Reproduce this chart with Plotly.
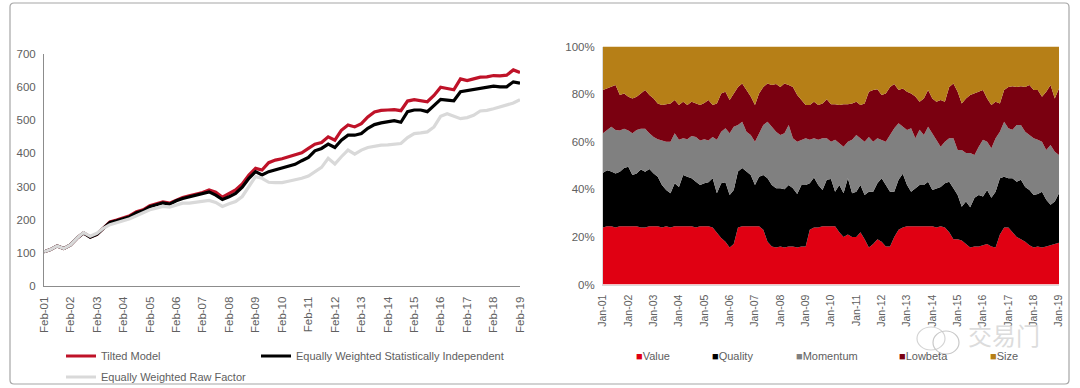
# plot.py - factor portfolio performance and weights through time
import pandas as pd
import plotly.graph_objects as go

# ── Left panel: cumulative performance, quarterly ─────────────────────────────
perf_dates = pd.date_range("2001-02-01", "2019-02-01", freq="3MS")
tilted_model = [
    103, 110, 121, 113, 124, 144, 160, 148, 156, 175, 193, 199,
    206, 212, 224, 230, 242, 249, 254, 250, 260, 267, 272, 277,
    282, 290, 283, 268, 280, 290, 308, 335, 355, 350, 372, 380,
    384, 390, 394, 402, 415, 428, 433, 450, 440, 470, 486, 480,
    490, 510, 525, 530, 531, 532, 529, 558, 562, 559, 556, 575,
    600, 596, 592, 625, 620, 625, 630, 631, 635, 634, 636, 652, 644,
]
stat_independent = [
    103, 110, 121, 113, 124, 144, 160, 147, 156, 174, 192, 197,
    204, 209, 221, 227, 239, 246, 251, 247, 257, 264, 269, 274,
    277, 284, 274, 261, 269, 279, 298, 325, 345, 335, 345, 350,
    355, 362, 367, 378, 388, 408, 415, 428, 418, 440, 455, 455,
    460, 476, 487, 492, 496, 499, 494, 526, 531, 531, 526, 546,
    563, 561, 559, 586, 589, 593, 596, 599, 603, 601, 601, 616, 612,
]
raw_factor = [
    103, 110, 121, 113, 124, 144, 161, 150, 159, 174, 185, 191,
    196, 203, 212, 222, 230, 235, 240, 238, 244, 250, 250, 252,
    255, 258, 252, 240, 248, 255, 270, 300, 330, 325, 313, 312,
    312, 316, 320, 325, 332, 345, 358, 385, 368, 390, 410, 398,
    410, 418, 422, 425, 426, 428, 430, 448, 460, 462, 465, 480,
    512, 520, 512, 505, 508, 515, 528, 530, 535, 540, 545, 552, 562,
]

# ── Right panel: top edge of each factor band in %, every two months ──────────
weight_dates = pd.date_range("2001-01-01", "2019-01-01", freq="2MS")
value_top = [
    24, 24.5, 24.5, 24, 24.5, 24.5,
    24.5, 24.5, 24.5, 24, 24, 24.5,
    24.5, 24.5, 24, 24.5, 24, 24.5,
    24.5, 24.5, 24.5, 24.5, 24, 24.5,
    24.5, 24.5, 24, 22, 19.5, 18,
    15.5, 17, 24, 24.5, 24.5, 24.5,
    24.5, 24.5, 23, 18, 16, 15.5,
    16, 15.5, 16, 16, 15.5, 16,
    16, 23, 24, 24, 24.5, 24.5,
    24.5, 24.5, 22, 20, 21, 20,
    20, 22, 19, 15.5, 17, 19,
    18, 16, 16, 20, 23, 24,
    24.5, 24.5, 24.5, 24.5, 24.5, 24.5,
    24.5, 24, 24.5, 24, 22, 19,
    19, 18.5, 17, 15.5, 16, 16,
    16.5, 17, 16, 15.5, 21, 24,
    24, 22, 20, 19, 18, 16.5,
    15.5, 16, 15.5, 16, 16.5, 17,
    17.5,
]
quality_top = [
    47, 48, 47.5, 46.6, 47.4, 49,
    49.5, 46, 46.6, 48.3, 47.4, 48.5,
    46.6, 45.3, 41.8, 39.7, 38.3, 42.5,
    41, 46, 45.3, 44.6, 43.2, 41.8,
    42.5, 43, 44.6, 38.3, 42.5, 43,
    37.6, 39.7, 47.5, 49, 47.5, 46,
    41.8, 45.3, 46, 44.6, 41.8, 40.4,
    40.4, 40, 41.8, 40.4, 38, 41.8,
    41.8, 42.5, 45, 41.8, 39.7, 44,
    44.3, 39, 41.8, 38.3, 44.6, 38.3,
    39, 41.8, 37.6, 39, 39, 42.5,
    44.6, 41.8, 39, 39, 44, 46.5,
    41.8, 39, 40.4, 41.8, 41.8, 43.2,
    39.7, 40.4, 41, 42.5, 43.2, 40.4,
    37.6, 32.7, 34.9, 32.5, 36.4, 37.6,
    37, 39.7, 36.4, 39, 44.6, 45.3,
    44.6, 44.6, 43.2, 44, 41, 39.7,
    37.6, 38, 39, 35.6, 33.5, 34.9,
    38.3,
]
momentum_top = [
    63.5, 64.9, 66.3, 64.9, 64.7, 65.4,
    64.7, 63.5, 64.9, 65.4, 65.4, 63.5,
    62, 61, 60.5, 60, 60, 63.5,
    60.8, 61.5, 61, 62.4, 62, 60.5,
    61, 60.5, 62, 60.8, 64.2, 65.6,
    63.5, 66.3, 67, 68.4, 64.2, 62.8,
    60, 63.5, 67, 68.4, 66.3, 64.2,
    62.8, 63.5, 67, 61.5, 60, 60.8,
    61.5, 60.8, 61.5, 60.8, 61.5, 61.5,
    60, 60.8, 59.3, 57.9, 60, 60.8,
    62.8, 61.5, 60, 62, 60, 61.5,
    60.8, 60, 62.8, 65.6, 67.7, 66.3,
    64.9, 65.6, 61.5, 65, 62.8, 66.3,
    63.5, 60.8, 57.9, 60, 61.5, 61.5,
    56.5, 56.5, 55.2, 55.2, 54.4, 57.9,
    60.8, 60, 57.2, 61.5, 64.2, 68.4,
    65.6, 65, 67, 67, 64.2, 62.8,
    61.5, 60.8, 60, 56.5, 58.6, 55.8,
    54.4,
]
lowbeta_top = [
    81.7, 82.4, 82.8, 83.8, 79.6, 80.3,
    78.9, 78.2, 78.9, 80.3, 81.7, 79.6,
    78.2, 76.1, 75.4, 75.7, 76.1, 77.5,
    75.4, 76.8, 75.4, 76.8, 76.1, 75.4,
    76.3, 77.5, 75.4, 76.1, 80.3, 81,
    77.5, 80.3, 83, 84.5, 81.7, 79,
    75.4, 80.3, 83, 84.5, 83.8, 84.2,
    83, 84.5, 83.8, 83, 79.6, 77.5,
    75.4, 75.4, 76.8, 75.4, 76.1, 77.8,
    75.7, 75.7, 75.4, 75.7, 75.7, 76.1,
    76.8, 75.4, 76.1, 81, 81.7, 82,
    79.6, 80.3, 83, 84.2, 81.7, 82.4,
    81, 80.3, 79, 76.8, 78.2, 81.7,
    78.2, 76.8, 77.5, 76.8, 83, 84.5,
    81, 76.1, 78.2, 79.6, 80.3, 81,
    81.7, 78.2, 75.4, 76.8, 76.1, 81.7,
    83, 83.3, 83, 83.3, 83, 83.8,
    81.7, 81.7, 78.9, 81, 83.8, 78.2,
    82.4,
]
size_top = [100] * len(weight_dates)

# ── Colours and fonts ─────────────────────────────────────────────────────────
RED_LINE = "#bf1228"
BLACK = "#000000"
LIGHT_GREY = "#d9d9d9"
VALUE_RED = "#e00012"
MOM_GREY = "#808080"
LOWBETA = "#7a0010"
SIZE_GOLD = "#b67f17"
TEXT = "#606060"
AXIS_LINE = "#8c8c8c"
FONT = "Liberation Sans"


def px_x(p):
    return p / 1080


def px_y(p):
    return 1 - p / 388


fig = go.Figure()

# left chart lines, each in its own legend so the entries can sit like the original
for name, vals, color, legend in [
    ("Tilted Model", tilted_model, RED_LINE, "legend"),
    ("Equally Weighted Statistically Independent", stat_independent, BLACK, "legend2"),
    ("Equally Weighted Raw Factor", raw_factor, LIGHT_GREY, "legend3"),
]:
    fig.add_trace(go.Scatter(
        x=perf_dates, y=vals, name=name, mode="lines",
        line=dict(color=color, width=3.2),
        xaxis="x", yaxis="y", legend=legend,
    ))

# right chart bands, each fills down to the previous one
for i, (name, vals, color) in enumerate([
    ("Value", value_top, VALUE_RED),
    ("Quality", quality_top, BLACK),
    ("Momentum", momentum_top, MOM_GREY),
    ("Lowbeta", lowbeta_top, LOWBETA),
    ("Size", size_top, SIZE_GOLD),
]):
    fig.add_trace(go.Scatter(
        x=weight_dates, y=vals, name=name, mode="lines",
        line=dict(width=0, color=color),
        fill="tozeroy" if i == 0 else "tonexty", fillcolor=color,
        xaxis="x2", yaxis="y2", showlegend=False,
    ))

_AXIS = dict(
    showgrid=False, zeroline=False, showline=True, automargin=False,
    tickfont=dict(family=FONT, size=11.5, color=TEXT),
)
_LEGEND = dict(
    orientation="v", xanchor="left", yanchor="middle",
    bgcolor="rgba(0,0,0,0)", itemwidth=30,
    font=dict(family=FONT, size=11, color=TEXT),
)

fig.update_layout(
    width=1080, height=388,
    margin=dict(l=0, r=0, t=0, b=0, autoexpand=False),
    paper_bgcolor="white", plot_bgcolor="white",
    xaxis=dict(
        **_AXIS, linecolor=AXIS_LINE, domain=[px_x(44), px_x(520)], anchor="y",
        type="date", range=["2001-02-01", "2019-02-01"],
        dtick="M12", tick0="2001-02-01", tickformat="%b-%y", tickangle=-90,
        ticklabelstandoff=5,
    ),
    yaxis=dict(
        **_AXIS, linecolor=AXIS_LINE, domain=[px_y(286), px_y(54)], anchor="x",
        range=[0, 700], dtick=100, ticklabelstandoff=5,
    ),
    xaxis2=dict(
        **_AXIS, linecolor="#d9d9d9", domain=[px_x(603), px_x(1059)], anchor="y2",
        type="date", range=["2001-01-01", "2019-01-01"],
        dtick="M12", tick0="2001-01-01", tickformat="%b-%y", tickangle=-90,
        ticklabelstandoff=5,
    ),
    yaxis2=dict(
        **_AXIS, linecolor="#d9d9d9", domain=[px_y(284.5), px_y(46.5)], anchor="x2",
        range=[0, 100], dtick=20, ticksuffix="%", ticklabelstandoff=5,
    ),
    legend=dict(**_LEGEND, x=px_x(61), y=px_y(356)),
    legend2=dict(**_LEGEND, x=px_x(256), y=px_y(356)),
    legend3=dict(**_LEGEND, x=px_x(61), y=px_y(377)),
    shapes=[
        # outer frame
        dict(type="path", xref="paper", yref="paper", layer="below",
             path=f"M {px_x(14)} {px_y(3)} L {px_x(1065)} {px_y(3)} "
                  f"Q {px_x(1069)} {px_y(3)} {px_x(1069)} {px_y(7)} "
                  f"L {px_x(1069)} {px_y(380)} Q {px_x(1069)} {px_y(384)} {px_x(1065)} {px_y(384)} "
                  f"L {px_x(14)} {px_y(384)} Q {px_x(10)} {px_y(384)} {px_x(10)} {px_y(380)} "
                  f"L {px_x(10)} {px_y(7)} Q {px_x(10)} {px_y(3)} {px_x(14)} {px_y(3)} Z",
             line=dict(color="#a6a6a6", width=1.2)),
        # watermark bubbles
        dict(type="circle", xref="paper", yref="paper",
             x0=px_x(917), x1=px_x(945), y0=px_y(350), y1=px_y(327),
             line=dict(color="#d4d4d4", width=1.2)),
        dict(type="circle", xref="paper", yref="paper",
             x0=px_x(933), x1=px_x(959), y0=px_y(354), y1=px_y(331),
             line=dict(color="#c8c8c8", width=1.2)),
    ],
    annotations=[
        dict(xref="paper", yref="paper", x=px_x(x), y=px_y(356), xanchor="left", yanchor="middle",
             showarrow=False, align="left",
             font=dict(family=FONT, size=11, color=TEXT),
             text=f'<span style="color:{c}">■</span>{t}')
        for x, t, c in [
            (634, "Value", VALUE_RED), (710, "Quality", BLACK), (794, "Momentum", MOM_GREY),
            (897, "Lowbeta", LOWBETA), (988, "Size", SIZE_GOLD),
        ]
    ] + [
        dict(xref="paper", yref="paper", x=px_x(966), y=px_y(334), xanchor="left", yanchor="middle",
             showarrow=False, text="交易门",
             font=dict(family="Noto Sans CJK SC", size=24, color="#dcdcdc")),
    ],
)
fig.layout.xaxis2.tickfont.size = 10.5

fig.write_html("out.html", config=dict(displayModeBar=False),
               post_script="document.body.style.margin='0';")
